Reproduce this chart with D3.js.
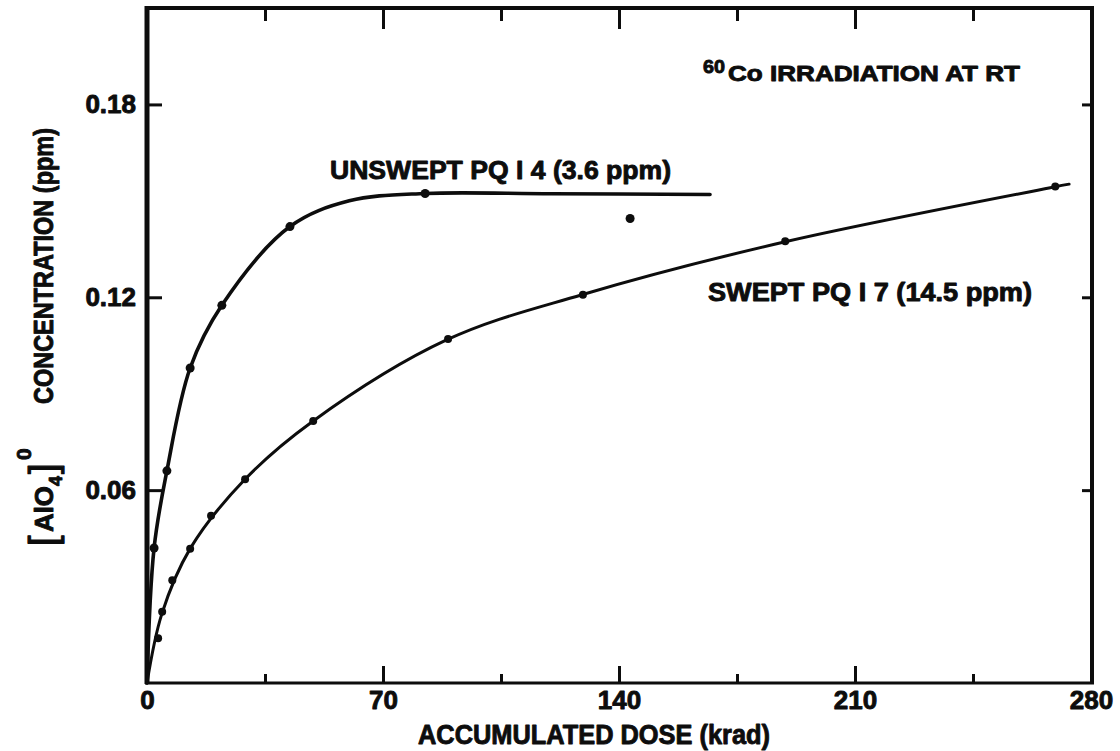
<!DOCTYPE html>
<html><head><meta charset="utf-8">
<script src="https://cdn.jsdelivr.net/npm/d3@7"></script>
<style>
body{margin:0;background:#fff}
text{font-family:"Liberation Sans",Arial,Helvetica,sans-serif;font-weight:700;fill:#0d0d0d;stroke:#0d0d0d;stroke-width:0.9px;stroke-linejoin:round}
</style>
</head><body>
<svg id="chart" width="1120" height="751"></svg>
<script>
// ---- data ----
const xMajorTicks = [70, 140, 210];
const xMinorTicks = [35, 105, 175, 245];
const xTickValues = [0, 70, 140, 210, 280];
const xTickLabels = ["0", "70", "140", "210", "280"];
const yTickValues = [0.06, 0.12, 0.18];
const yTickLabels = ["0.06", "0.12", "0.18"];

// measured points
const unsweptDose = [2.1, 5.9, 12.8, 22.2, 42.4, 82.5, 143.3];
const unsweptConc = [0.042, 0.066, 0.098, 0.1175, 0.142, 0.1523, 0.1445];
const sweptDose = [3.3, 4.5, 7.5, 12.8, 19.0, 29.1, 49.3, 89.3, 129.3, 189.3, 269.4];
const sweptConc = [0.0139, 0.0222, 0.032, 0.0418, 0.052, 0.0634, 0.0815, 0.107, 0.1208, 0.1374, 0.1545];

// fitted curves drawn through the data
const unsweptCurveDose = [0, 2.1, 5.9, 12.8, 22.2, 42.4, 60, 82.5, 120, 167];
const unsweptCurveConc = [0, 0.042, 0.066, 0.098, 0.1175, 0.142, 0.1500, 0.1523, 0.1522, 0.152];
const sweptCurveDose = [0, 4.4, 12.8, 29, 49, 89, 129, 189, 269, 273.5];
const sweptCurveConc = [0, 0.0215, 0.0418, 0.0633, 0.0813, 0.1068, 0.1208, 0.1372, 0.1543, 0.1552];

const unsweptLabel = "UNSWEPT PQ I 4 (3.6 ppm)";
const sweptLabel = "SWEPT PQ I 7 (14.5 ppm)";
const titleSup = "60";
const titleMain = "Co IRRADIATION AT RT";
const xTitle = "ACCUMULATED DOSE  (krad)";

// ---- layout ----
const svg = d3.select("#chart");
const L = 147, R = 1092, T = 8, B = 683;
const x = d3.scaleLinear().domain([0, 280]).range([L, 1091]);
const y = d3.scaleLinear().domain([0, 0.21]).range([B, T]);
const ink = "#0d0d0d";

function styleAxis(g){
  g.select(".domain").remove();
  g.selectAll("line").attr("stroke", ink).attr("stroke-width", 3);
  g.selectAll("text").attr("fill", ink).style("font-size", "26px").style("font-weight", 700)
   .style("font-family", '"Liberation Sans",Arial,sans-serif');
}
svg.append("g").attr("transform", `translate(0,${B})`)
  .call(d3.axisBottom(x).tickValues(xMajorTicks).tickSize(-17).tickFormat("")).call(styleAxis);
svg.append("g").attr("transform", `translate(0,${B})`)
  .call(d3.axisBottom(x).tickValues(xMinorTicks).tickSize(-9).tickFormat("")).call(styleAxis);
svg.append("g").attr("transform", `translate(0,${T})`)
  .call(d3.axisTop(x).tickValues(xMajorTicks).tickSize(-21).tickFormat("")).call(styleAxis);
svg.append("g").attr("transform", `translate(0,${T})`)
  .call(d3.axisTop(x).tickValues(xMinorTicks).tickSize(-13).tickFormat("")).call(styleAxis);
svg.append("g").attr("transform", `translate(0,${B})`)
  .call(d3.axisBottom(x).tickValues(xTickValues).tickSize(0).tickPadding(8)
    .tickFormat((d, i) => xTickLabels[i])).call(styleAxis);
svg.append("g").attr("transform", `translate(${L},0)`)
  .call(d3.axisLeft(y).tickValues(yTickValues).tickSize(-15).tickPadding(11)
    .tickFormat((d, i) => yTickLabels[i])).call(styleAxis);
svg.append("g").attr("transform", `translate(${R},0)`)
  .call(d3.axisRight(y).tickValues(yTickValues).tickSize(-10).tickFormat("")).call(styleAxis);

// frame
svg.append("line").attr("x1", L).attr("x2", L).attr("y1", T - 2).attr("y2", B + 1).attr("stroke", ink).attr("stroke-width", 5);
svg.append("line").attr("x1", R).attr("x2", R).attr("y1", T - 2).attr("y2", B + 1).attr("stroke", ink).attr("stroke-width", 4);
svg.append("line").attr("x1", L - 2).attr("x2", R + 2).attr("y1", T).attr("y2", T).attr("stroke", ink).attr("stroke-width", 4);
svg.append("line").attr("x1", L - 2).attr("x2", R + 2).attr("y1", B).attr("y2", B).attr("stroke", ink).attr("stroke-width", 3);

// curves
const line = d3.line().x(d => x(d[0])).y(d => y(d[1])).curve(d3.curveCatmullRom.alpha(0.5));
const unsweptCurve = d3.zip(unsweptCurveDose, unsweptCurveConc);
const sweptCurve = d3.zip(sweptCurveDose, sweptCurveConc);
svg.append("path").attr("d", line(unsweptCurve)).attr("fill", "none").attr("stroke", ink).attr("stroke-width", 3.6).attr("stroke-linecap", "round");
svg.append("path").attr("d", line(sweptCurve)).attr("fill", "none").attr("stroke", ink).attr("stroke-width", 3).attr("stroke-linecap", "round");

// points
svg.append("g").selectAll("circle").data(d3.zip(unsweptDose, unsweptConc)).join("circle")
  .attr("cx", d => x(d[0])).attr("cy", d => y(d[1])).attr("r", 4.5).attr("fill", ink);
svg.append("g").selectAll("circle").data(d3.zip(sweptDose, sweptConc)).join("circle")
  .attr("cx", d => x(d[0])).attr("cy", d => y(d[1])).attr("r", 4).attr("fill", ink);

// labels
svg.append("text").attr("x", 330).attr("y", 179).style("font-size", "25px")
  .attr("textLength", 341).attr("lengthAdjust", "spacingAndGlyphs").text(unsweptLabel);
svg.append("text").attr("x", 708).attr("y", 301).style("font-size", "25px")
  .attr("textLength", 324).attr("lengthAdjust", "spacingAndGlyphs").text(sweptLabel);
svg.append("text").attr("x", 703).attr("y", 73).style("font-size", "19px")
  .attr("textLength", 22).attr("lengthAdjust", "spacingAndGlyphs").text(titleSup);
svg.append("text").attr("x", 728).attr("y", 81).style("font-size", "22px")
  .attr("textLength", 292).attr("lengthAdjust", "spacingAndGlyphs").text(titleMain);
svg.append("text").attr("x", 418).attr("y", 744).style("font-size", "27px")
  .attr("textLength", 352).attr("lengthAdjust", "spacingAndGlyphs").text(xTitle);

// y title (rotated)
const yt = svg.append("g").attr("transform", "translate(53,546) rotate(-90)");
yt.append("text").attr("x", 0).attr("y", 3).style("font-size", "38px").style("font-weight", 400).style("stroke-width", "1.2px").text("[");
yt.append("text").attr("x", 14).attr("y", 0).style("font-size", "26px").attr("textLength", 46).attr("lengthAdjust", "spacingAndGlyphs").text("AlO");
yt.append("text").attr("x", 60).attr("y", 9).style("font-size", "18px").text("4");
yt.append("text").attr("x", 72).attr("y", 3).style("font-size", "38px").style("font-weight", 400).style("stroke-width", "1.2px").text("]");
yt.append("text").attr("x", 86).attr("y", -22).style("font-size", "21px").text("0");
yt.append("text").attr("x", 142).attr("y", 0).style("font-size", "27px")
  .attr("textLength", 276).attr("lengthAdjust", "spacingAndGlyphs").text("CONCENTRATION  (ppm)");
</script>
</body></html>
